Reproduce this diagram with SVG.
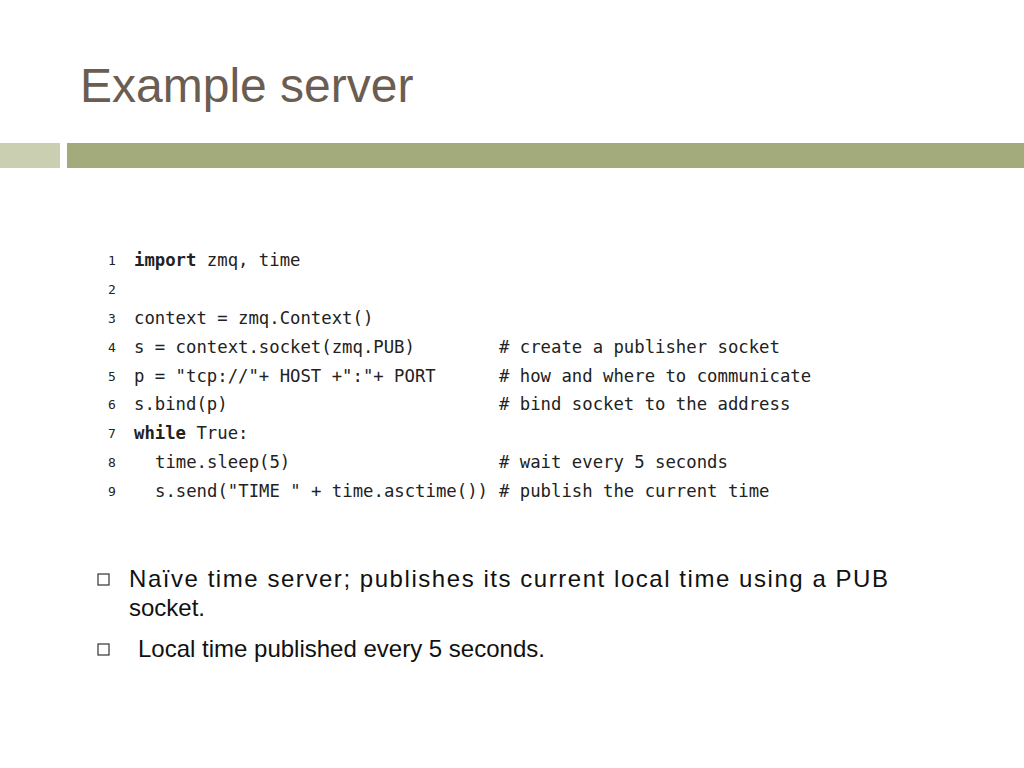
<svg xmlns="http://www.w3.org/2000/svg" width="1024" height="768" viewBox="0 0 1024 768">
<style>
.n{font-family:"DejaVu Sans Mono",monospace;font-size:13px;fill:#222}
.c{font-family:"DejaVu Sans Mono",monospace;font-size:17.3px;fill:#222}
.k{font-weight:bold}
.b{font-family:"Liberation Sans",sans-serif;font-size:24px;fill:#111}
.sq{fill:none;stroke:#333;stroke-width:1.2}
</style>
<rect width="1024" height="768" fill="#fff"/>
<text x="80" y="102" font-family="Liberation Sans, sans-serif" font-size="48" fill="#6b5d52">Example server</text>
<rect x="0" y="143" width="60" height="25" fill="#c9cfb0"/>
<rect x="67" y="143" width="957" height="25" fill="#a3ab7c"/>
<g id="code">
<text class="n" x="108" y="265">1</text><text class="c" x="134" y="266"><tspan class="k">import</tspan> zmq, time</text>
<text class="n" x="108" y="294">2</text>
<text class="n" x="108" y="323">3</text><text class="c" x="134" y="324">context = zmq.Context()</text>
<text class="n" x="108" y="352">4</text><text class="c" x="134" y="353">s = context.socket(zmq.PUB)</text><text class="c" x="499" y="353"># create a publisher socket</text>
<text class="n" x="108" y="381">5</text><text class="c" x="134" y="382">p = "tcp://"+ HOST +":"+ PORT</text><text class="c" x="499" y="382"># how and where to communicate</text>
<text class="n" x="108" y="409">6</text><text class="c" x="134" y="410">s.bind(p)</text><text class="c" x="499" y="410"># bind socket to the address</text>
<text class="n" x="108" y="438">7</text><text class="c" x="134" y="439"><tspan class="k">while</tspan> True:</text>
<text class="n" x="108" y="467">8</text><text class="c" x="155" y="468">time.sleep(5)</text><text class="c" x="499" y="468"># wait every 5 seconds</text>
<text class="n" x="108" y="496">9</text><text class="c" x="155" y="497">s.send("TIME " + time.asctime())</text><text class="c" x="499" y="497"># publish the current time</text>
</g>
<g id="bullets">
<rect class="sq" x="98" y="574" width="11" height="11"/>
<text class="b" x="129" y="587" textLength="759">Naïve time server; publishes its current local time using a PUB</text>
<text class="b" x="129" y="616">socket.</text>
<rect class="sq" x="98" y="644" width="11" height="11"/>
<text class="b" x="138" y="657">Local time published every 5 seconds.</text>
</g>
</svg>
